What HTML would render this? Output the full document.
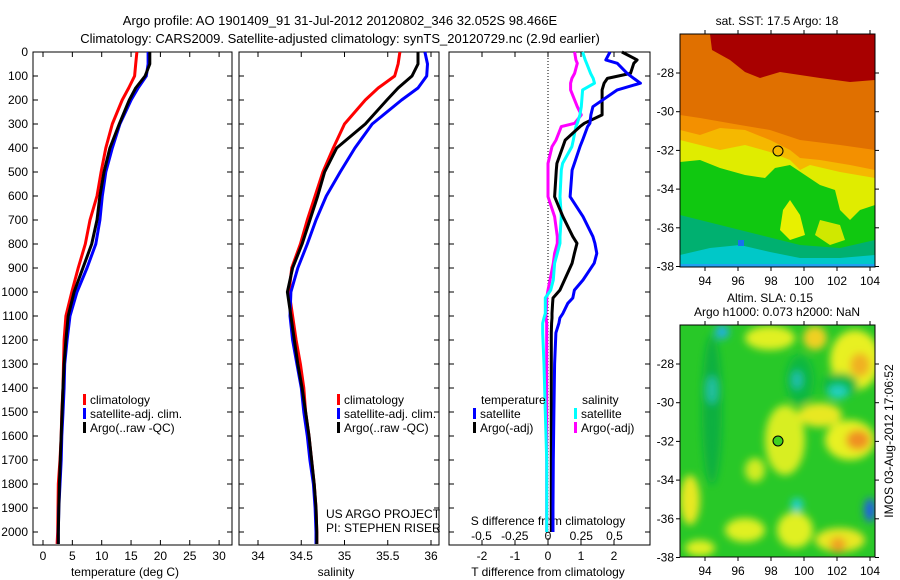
<!DOCTYPE html>
<html><head><meta charset="utf-8"><style>
html,body{margin:0;padding:0;background:#fff;}
svg{display:block;font-family:"Liberation Sans",sans-serif;}
</style></head><body>
<svg id="chart" width="900" height="580" viewBox="0 0 900 580" xmlns="http://www.w3.org/2000/svg">
<defs>
<filter id="blur6" x="-20%" y="-20%" width="140%" height="140%"><feGaussianBlur stdDeviation="4"/></filter>
<clipPath id="clipTop"><rect x="680" y="34" width="195" height="233"/></clipPath>
<clipPath id="clipBot"><rect x="680" y="325" width="195" height="232"/></clipPath>
</defs>
<text x="340" y="25" font-size="13" text-anchor="middle">Argo profile: AO 1901409_91 31-Jul-2012 20120802_346 32.052S 98.466E</text>
<text x="340" y="43" font-size="13" text-anchor="middle">Climatology: CARS2009. Satellite-adjusted climatology: synTS_20120729.nc (2.9d earlier)</text>

<!-- Top map -->
<g clip-path="url(#clipTop)">
<rect x="680" y="34" width="195" height="233" fill="#f39000"/>
<polygon points="680,34 875,34 875,150 840,145 800,140 770,130 740,125 700,118 680,115" fill="#e07000"/>
<polygon points="710,34 875,34 875,80 850,82 820,78 800,75 780,72 760,78 745,72 730,60 712,50" fill="#a80000"/>
<polygon points="680,130 700,135 720,128 745,130 770,140 790,150 800,158 820,160 850,165 875,170 875,267 680,267" fill="#f5b800"/>
<polygon points="680,140 720,150 745,145 770,152 790,160 800,170 810,165 840,172 875,178 875,267 680,267" fill="#e0ec00"/>
<polygon points="680,162 700,160 720,168 745,175 765,178 775,168 790,165 805,175 820,185 835,190 840,210 850,220 860,210 875,205 875,267 680,267" fill="#10c810"/>
<polygon points="790,200 800,215 805,235 790,240 780,230 783,210" fill="#e8f000"/>
<polygon points="820,220 840,225 845,240 830,245 815,235" fill="#d0e800"/>
<polygon points="680,215 720,225 760,235 800,245 840,248 875,240 875,267 680,267" fill="#00b070"/>
<polygon points="680,255 710,248 740,245 770,252 800,258 840,258 875,255 875,267 680,267" fill="#00c8c8"/>
<rect x="680" y="264" width="195" height="3" fill="#20a0f0"/>
<rect x="738" y="240" width="6" height="6" fill="#1870f0"/>
</g>
<rect x="680" y="34" width="195" height="233" fill="none" stroke="#000"/>
<circle cx="778" cy="151" r="5" fill="none" stroke="#000"/>
<text x="777" y="25" font-size="12" text-anchor="middle">sat. SST: 17.5 Argo: 18</text>

<!-- Bottom map -->
<g clip-path="url(#clipBot)">
<rect x="680" y="325" width="195" height="232" fill="#28c828"/>
<g filter="url(#blur6)">
<ellipse cx="770" cy="338" rx="25" ry="12" fill="#e0f020"/>
<ellipse cx="815" cy="338" rx="12" ry="12" fill="#f0d020"/>
<ellipse cx="855" cy="360" rx="25" ry="30" fill="#e8f020"/>
<ellipse cx="860" cy="365" rx="10" ry="12" fill="#f0b020"/>
<ellipse cx="785" cy="440" rx="20" ry="35" fill="#d8ee20"/>
<ellipse cx="820" cy="415" rx="22" ry="12" fill="#e8e820"/>
<ellipse cx="850" cy="440" rx="25" ry="20" fill="#e8f020"/>
<ellipse cx="858" cy="440" rx="12" ry="10" fill="#f09020"/>
<ellipse cx="690" cy="500" rx="10" ry="25" fill="#e8e820"/>
<ellipse cx="700" cy="548" rx="15" ry="8" fill="#e0f020"/>
<ellipse cx="745" cy="530" rx="20" ry="12" fill="#e0f020"/>
<ellipse cx="795" cy="530" rx="18" ry="18" fill="#e0f020"/>
<ellipse cx="840" cy="540" rx="25" ry="12" fill="#e8e820"/>
<ellipse cx="838" cy="545" rx="8" ry="8" fill="#f0a020"/>
<ellipse cx="755" cy="470" rx="10" ry="12" fill="#d0ec20"/>
<ellipse cx="712" cy="410" rx="10" ry="75" fill="#10b040"/>
<ellipse cx="800" cy="380" rx="14" ry="25" fill="#10b840"/>
<ellipse cx="840" cy="385" rx="18" ry="12" fill="#10b840"/>
<ellipse cx="712" cy="390" rx="6" ry="14" fill="#20c0a0"/>
<ellipse cx="838" cy="392" rx="10" ry="7" fill="#20d0c0"/>
<ellipse cx="797" cy="380" rx="5" ry="9" fill="#20c0b0"/>
<ellipse cx="797" cy="505" rx="6" ry="7" fill="#20d0d0"/>
<ellipse cx="870" cy="510" rx="6" ry="12" fill="#2060e0"/>
<ellipse cx="722" cy="332" rx="7" ry="7" fill="#20b0e0"/>
</g>
</g>
<rect x="680" y="325" width="195" height="232" fill="none" stroke="#000"/>
<circle cx="778" cy="441" r="5" fill="#40d020" stroke="#000"/>
<text x="770" y="302" font-size="12" text-anchor="middle">Altim. SLA: 0.15</text>
<text x="777" y="316" font-size="12" text-anchor="middle">Argo h1000: 0.073 h2000: NaN</text>
<text transform="translate(893,441) rotate(-90)" font-size="12" text-anchor="middle">IMOS 03-Aug-2012 17:06:52</text>
</svg>
<script>
// ---- Data ----
const depthT = [0,50,100,150,200,300,400,500,600,700,800,900,1000,1100,1200,1300,1400,1500,1600,1700,1800,1900,2000,2050];
const tempClim = [16.0,15.8,15.6,14.6,13.5,11.8,10.7,9.9,9.2,8.0,7.2,6.0,4.9,3.9,3.6,3.5,3.4,3.2,3.1,2.9,2.6,2.55,2.5,2.4];
const tempSat  = [17.9,17.9,17.6,16.2,15.0,13.1,11.8,10.7,10.1,9.7,9.0,7.5,5.8,4.6,4.1,3.7,3.6,3.4,3.2,3.1,2.9,2.7,2.6,2.6];
const tempArgo = [18.2,18.2,17.4,15.8,14.7,13.0,11.4,10.4,9.7,9.2,8.3,6.8,5.3,4.3,3.9,3.6,3.4,3.25,3.1,2.95,2.8,2.7,2.6,2.6];
const salClim = [35.64,35.62,35.58,35.39,35.24,35.0,34.87,34.75,34.66,34.57,34.49,34.39,34.36,34.40,34.44,34.49,34.53,34.55,34.59,34.62,34.65,34.67,34.68,34.68];
const salSat  = [35.93,35.96,35.95,35.85,35.66,35.32,35.12,34.95,34.79,34.67,34.57,34.46,34.38,34.37,34.40,34.45,34.50,34.53,34.57,34.60,34.64,34.66,34.67,34.67];
const salArgo = [35.85,35.85,35.78,35.62,35.49,35.24,34.91,34.77,34.69,34.60,34.51,34.40,34.34,34.38,34.42,34.46,34.51,34.55,34.59,34.62,34.65,34.67,34.68,34.68];
const depthD = [0,33,47,89,110,130,158,228,262,297,311,367,394,464,492,603,686,769,797,839,880,950,992,1025,1047,1089,1108,1130,1170,1300,1500,1700,1900,2000];
const dTSat  = [1.88,1.75,2.1,2.4,2.6,2.8,2.1,1.36,1.3,1.27,1.2,1.05,0.97,0.8,0.73,0.67,1.06,1.36,1.42,1.48,1.4,1.06,0.8,0.75,0.6,0.45,0.36,0.33,0.24,0.2,0.18,0.16,0.15,0.15];
const dTArgo = [2.24,2.7,2.6,2.5,1.8,1.7,1.64,1.64,1.64,1.1,0.97,0.52,0.45,0.27,0.25,0.2,0.45,0.75,0.88,0.8,0.73,0.5,0.36,0.15,0.14,0.12,0.12,0.11,0.1,0.1,0.1,0.1,0.1,0.1];
const dSSat  = [0.26,0.28,0.29,0.32,0.34,0.35,0.26,0.25,0.24,0.22,0.21,0.19,0.18,0.11,0.10,0.09,0.1,0.09,0.09,0.07,0.05,0.04,0.02,-0.02,-0.02,-0.02,-0.03,-0.04,-0.04,-0.03,-0.02,-0.01,-0.01,-0.01];
const dSArgo = [0.2,0.21,0.22,0.2,0.18,0.17,0.17,0.22,0.25,0.2,0.1,0.06,0.03,0.0,0.0,0.0,0.05,0.07,0.07,0.05,0.04,0.015,0.0,-0.01,-0.01,-0.015,-0.015,-0.01,-0.01,-0.01,-0.01,-0.01,-0.01,-0.01];
const depthTicks = [0,100,200,300,400,500,600,700,800,900,1000,1100,1200,1300,1400,1500,1600,1700,1800,1900,2000];
const tempTicks = [0,5,10,15,20,25,30];
const salTicks = [34,34.5,35,35.5,36];
const dTTicks = [-2,-1,0,1,2];
const dSTicks = [-0.5,-0.25,0,0.25,0.5];

const NS = 'http://www.w3.org/2000/svg';
const svg = document.getElementById('chart');
const TOP = 52, BOT = 545;
const yD = d => TOP + d * 0.24;
function mk(tag, attrs, parent) {
  const e = document.createElementNS(NS, tag);
  for (const k in attrs) e.setAttribute(k, attrs[k]);
  (parent || svg).appendChild(e);
  return e;
}
function panel(x0, x1, name) {
  const g = mk('g', {});
  
  
  const r = mk('rect', {x: x0, y: TOP, width: x1 - x0, height: BOT - TOP, fill: 'none', stroke: '#000'}, g);
  
  
  for (const d of depthTicks) {
    mk('line', {x1: x0, x2: x0 + 5, y1: yD(d), y2: yD(d), stroke: '#000'}, g);
    mk('line', {x1: x1, x2: x1 - 5, y1: yD(d), y2: yD(d), stroke: '#000'}, g);
  }
  return g;
}
function xTicks(g, ticks, xf, y, labelY, name) {
  for (const t of ticks) {
    const x = xf(t);
    mk('line', {x1: x, x2: x, y1: BOT, y2: BOT - 5, stroke: '#000'}, g);
    mk('line', {x1: x, x2: x, y1: TOP, y2: TOP + 5, stroke: '#000'}, g);
    const tx = mk('text', {x: x, y: labelY, 'font-size': 12, 'text-anchor': 'middle'}, g);
    tx.textContent = String(t);
    
    
  }
}
function stepLine(g, depths, vals, xf, color, name) {
  let p = '';
  for (let i = 0; i < depths.length; i++) {
    const x = xf(vals[i]).toFixed(1), y = yD(depths[i]).toFixed(1);
    p += (i ? 'L' : 'M') + x + ',' + y;
  }
  const path = mk('path', {d: p, fill: 'none', stroke: color, 'stroke-width': 3, 'stroke-linejoin': 'round'}, g);
  
  
}
function legend(g, x, y, items) {
  items.forEach((it, i) => {
    mk('rect', {x: x, y: y + i * 14 - 10, width: 3, height: 11, fill: it[1]}, g);
    const t = mk('text', {x: x + 7, y: y + i * 14, 'font-size': 12}, g);
    t.textContent = it[0];
    
    
  });
}

// Panel 1: temperature
const xT = t => 43 + t * 5.87;
const g1 = panel(33, 232, 'temperature-panel');
for (const d of depthTicks) {
  const t = mk('text', {x: 28, y: yD(d) + 4, 'font-size': 12, 'text-anchor': 'end'}, g1);
  t.textContent = String(d);
  
  
}
xTicks(g1, tempTicks, xT, BOT, 560, 'temperature');
const xl1 = mk('text', {x: 125, y: 576, 'font-size': 12, 'text-anchor': 'middle'}, g1);
xl1.textContent = 'temperature (deg C)';


stepLine(g1, depthT, tempClim, xT, '#f00', 'temp-climatology-line');
stepLine(g1, depthT, tempSat, xT, '#00f', 'temp-satellite-line');
stepLine(g1, depthT, tempArgo, xT, '#000', 'temp-argo-line');
legend(g1, 83, 404, [['climatology', '#f00'], ['satellite-adj. clim.', '#00f'], ['Argo(..raw -QC)', '#000']]);

// Panel 2: salinity
const xS = s => 258 + (s - 34) * 86.5;
const g2 = panel(239, 439, 'salinity-panel');
xTicks(g2, salTicks, xS, BOT, 560, 'salinity');
const xl2 = mk('text', {x: 336, y: 576, 'font-size': 12, 'text-anchor': 'middle'}, g2);
xl2.textContent = 'salinity';


stepLine(g2, depthT, salClim, xS, '#f00', 'sal-climatology-line');
stepLine(g2, depthT, salSat, xS, '#00f', 'sal-satellite-line');
stepLine(g2, depthT, salArgo, xS, '#000', 'sal-argo-line');
legend(g2, 337, 404, [['climatology', '#f00'], ['satellite-adj. clim.', '#00f'], ['Argo(..raw -QC)', '#000']]);
const c1 = mk('text', {x: 326, y: 518, 'font-size': 12}, g2); c1.textContent = 'US ARGO PROJECT';
 
const c2 = mk('text', {x: 326, y: 532, 'font-size': 12}, g2); c2.textContent = 'PI: STEPHEN RISER';
 

// Panel 3: differences
const xDT = v => 548 + v * 33;
const xDS = v => 548 + v * 133;
const g3 = panel(449, 650, 'difference-panel');
const zl = mk('line', {x1: xDT(0), x2: xDT(0), y1: TOP, y2: BOT, stroke: '#000', 'stroke-dasharray': '1,2'}, g3);
 
for (const t of dTTicks) {
  const x = xDT(t);
  mk('line', {x1: x, x2: x, y1: BOT, y2: BOT - 5, stroke: '#000'}, g3);
  mk('line', {x1: x, x2: x, y1: TOP, y2: TOP + 5, stroke: '#000'}, g3);
  const tx = mk('text', {x: x, y: 560, 'font-size': 12, 'text-anchor': 'middle'}, g3);
  tx.textContent = String(t);
   
}
for (const t of dSTicks) {
  const tx = mk('text', {x: xDS(t), y: 540, 'font-size': 12, 'text-anchor': 'middle'}, g3);
  tx.textContent = String(t);
   
}
const sdl = mk('text', {x: 548, y: 525, 'font-size': 12, 'text-anchor': 'middle'}, g3);
sdl.textContent = 'S difference from climatology';
 
const tdl = mk('text', {x: 548, y: 576, 'font-size': 12, 'text-anchor': 'middle'}, g3);
tdl.textContent = 'T difference from climatology';
 
stepLine(g3, depthD, dSArgo, xDS, '#f0f', 'sdiff-argo-line');
stepLine(g3, depthD, dSSat, xDS, '#0ff', 'sdiff-satellite-line');
stepLine(g3, depthD, dTArgo, xDT, '#000', 'tdiff-argo-line');
stepLine(g3, depthD, dTSat, xDT, '#00f', 'tdiff-satellite-line');
const lt = mk('text', {x: 481, y: 404, 'font-size': 12}, g3); lt.textContent = 'temperature';
 
const ls = mk('text', {x: 582, y: 404, 'font-size': 12}, g3); ls.textContent = 'salinity';
 
legend(g3, 473, 418, [['satellite', '#00f'], ['Argo(-adj)', '#000']]);
legend(g3, 574, 418, [['satellite', '#0ff'], ['Argo(-adj)', '#f0f']]);

// Map axes
const lonTicks = [94,96,98,100,102,104];
const latTicks = [-28,-30,-32,-34,-36,-38];
function mapAxes(y0, y1, name) {
  const g = mk('g', {});
  
  
  const xL = v => 705 + (v - 94) * 16.5;
  const yL = v => y0 + 39 + (-28 - v) * 19.35;
  for (const v of lonTicks) {
    mk('line', {x1: xL(v), x2: xL(v), y1: y1, y2: y1 + 4, stroke: '#000'}, g);
    mk('line', {x1: xL(v), x2: xL(v), y1: y0, y2: y0 - 4, stroke: '#000'}, g);
    const t = mk('text', {x: xL(v), y: y1 + 18, 'font-size': 12, 'text-anchor': 'middle'}, g);
    t.textContent = String(v);
     
  }
  for (const v of latTicks) {
    mk('line', {x1: 676, x2: 680, y1: yL(v), y2: yL(v), stroke: '#000'}, g);
    mk('line', {x1: 875, x2: 879, y1: yL(v), y2: yL(v), stroke: '#000'}, g);
    const t = mk('text', {x: 674, y: yL(v) + 4, 'font-size': 12, 'text-anchor': 'end'}, g);
    t.textContent = String(v);
     
  }
}
mapAxes(34, 267, 'sst-map');
mapAxes(325, 557, 'sla-map');
</script>
</body></html>
